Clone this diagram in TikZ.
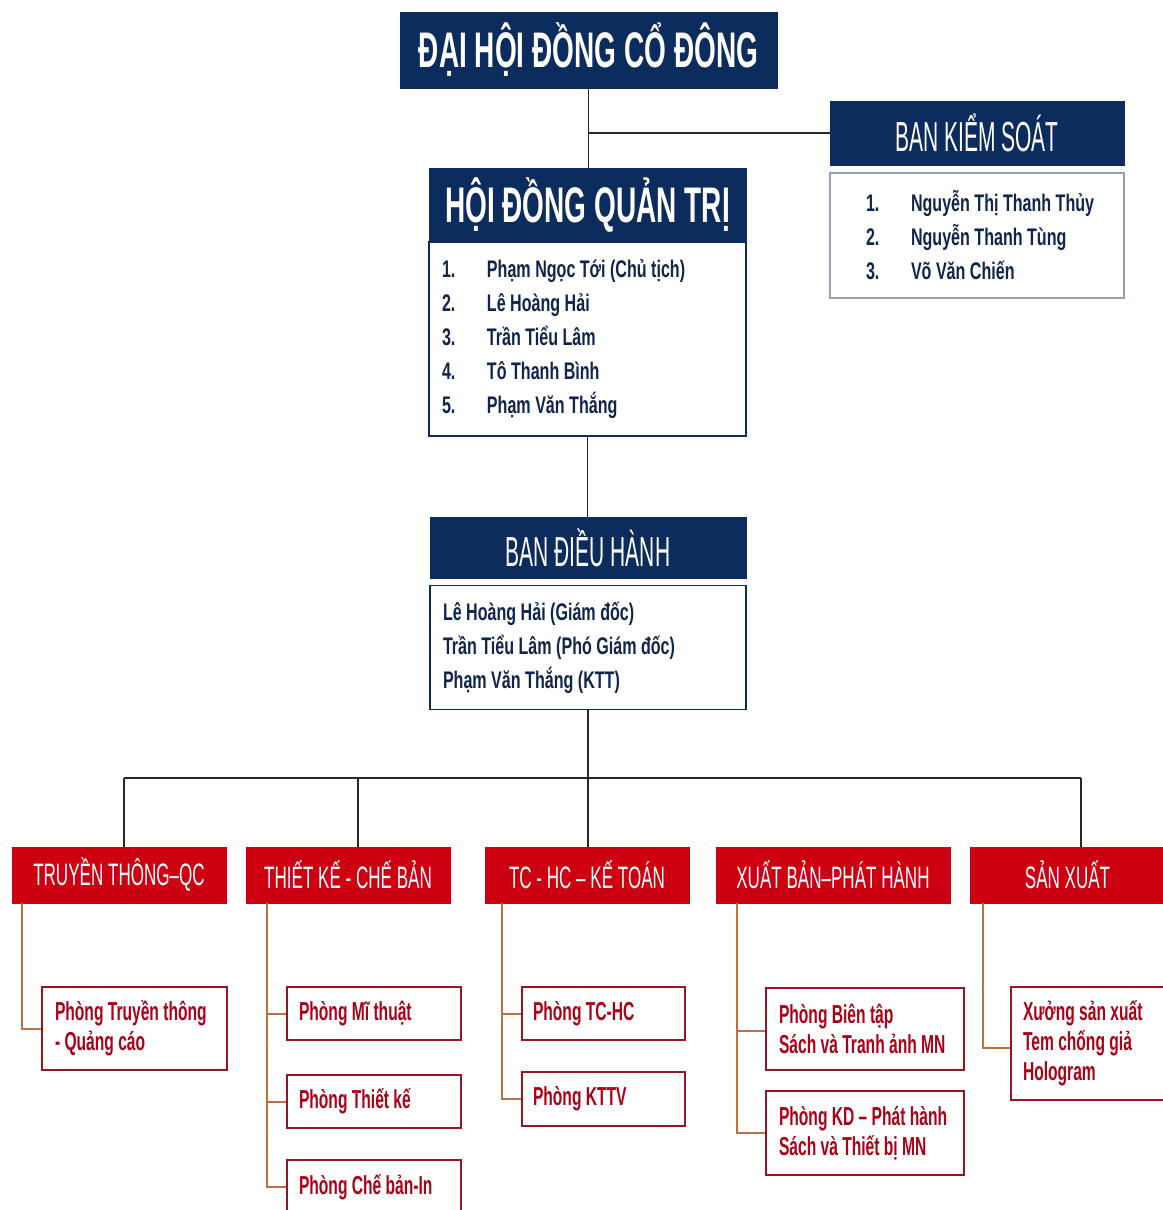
\documentclass[tikz,border=0pt]{standalone}
\usepackage{fontspec}
\setmainfont{Liberation Sans}
\newfontfamily\fTitle{Liberation Sans}[FakeStretch=0.56]
\newfontfamily\fHead{Liberation Sans}[FakeStretch=0.5]
\newfontfamily\fBody{Liberation Sans}[FakeStretch=0.67]
\newfontfamily\fRed{Liberation Sans}[FakeStretch=0.55]
\newfontfamily\fSub{Liberation Sans}[FakeStretch=0.6]
\newdimen\PX \PX=0.75pt
\newcommand\boxtext[3]{\kern#1\PX\begin{minipage}{#2\PX}#3\end{minipage}}
\newcommand\itm[1]{\makebox[45\PX][l]{#1}}
\definecolor{navy}{RGB}{12,44,94}
\definecolor{navytext}{RGB}{16,36,76}
\definecolor{graybd}{RGB}{150,160,178}
\definecolor{redc}{RGB}{204,0,16}
\definecolor{redtext}{RGB}{172,0,22}
\definecolor{subbd}{RGB}{150,22,32}
\definecolor{brownc}{RGB}{188,112,72}
\definecolor{linec}{RGB}{40,40,40}
\begin{document}
\begin{tikzpicture}[x=0.75pt,y=-0.75pt,
  wh/.style 2 args={minimum width=#1\PX, minimum height=#2\PX},
  navyhead/.style={fill=navy, draw=navy, text=white, inner sep=0pt},
  titlefont/.style={font=\fTitle\bfseries\fontsize{37.5}{42}\selectfont},
  headfont/.style={font=\fHead\fontsize{31.5}{36}\selectfont},
  navybody/.style={draw=navy, line width=1.2pt, fill=white, text=navytext, inner sep=0pt,
    font=\fBody\bfseries\fontsize{18}{25.5}\selectfont},
  redhead/.style={fill=redc, draw=redc, text=white, inner sep=0pt,
    font=\fRed\fontsize{23.25}{26}\selectfont},
  subbox/.style={draw=subbd, line width=1.3pt, fill=white, text=redtext, inner sep=0pt,
    font=\fSub\bfseries\fontsize{19.5}{22.5}\selectfont},
  conn/.style={draw=linec, line width=1.4pt},
  sconn/.style={draw=brownc, line width=1.5pt}]
\useasboundingbox (0,0) rectangle (1163,1210);
\fill[white] (0,0) rectangle (1163,1210);

% top level
\node[navyhead, wh={377}{76}, titlefont] (dh) at (588.5,50) {ĐẠI HỘI ĐỒNG CỔ ĐÔNG};
\node[navyhead, wh={317}{74}, titlefont] (hdh) at (587.5,205) {HỘI ĐỒNG QUẢN TRỊ};
\node[navybody, wh={317}{194}] (hdb) at (587.5,339) {\boxtext{13}{304}{%
  \itm{1.}Phạm Ngọc Tới (Chủ tịch)\\
  \itm{2.}Lê Hoàng Hải\\
  \itm{3.}Trần Tiểu Lâm\\
  \itm{4.}Tô Thanh Bình\\
  \itm{5.}Phạm Văn Thắng}};
\node[navyhead, wh={294}{64}, headfont] (bkh) at (977,133) {BAN KIỂM SOÁT};
\node[navybody, draw=graybd, wh={294}{125}] (bkb) at (977,235.5) {\boxtext{36}{258}{%
  \itm{1.}Nguyễn Thị Thanh Thủy\\
  \itm{2.}Nguyễn Thanh Tùng\\
  \itm{3.}Võ Văn Chiến}};
\node[navyhead, wh={316}{61}, headfont] (bdh) at (588,547.5) {BAN ĐIỀU HÀNH};
\node[navybody, wh={316}{124}] (bdb) at (588,647.5) {\boxtext{13}{303}{%
  Lê Hoàng Hải (Giám đốc)\\
  Trần Tiểu Lâm (Phó Giám đốc)\\
  Phạm Văn Thắng (KTT)}};

% red department headers
\node[redhead, wh={214}{56}] (tt) at (119,875) {TRUYỀN THÔNG–QC};
\node[redhead, wh={204}{56}] (tk) at (348,875) {THIẾT KẾ - CHẾ BẢN};
\node[redhead, wh={204}{56}] (tc) at (587,875) {TC - HC – KẾ TOÁN};
\node[redhead, wh={234}{56}] (xb) at (833,875) {XUẤT BẢN–PHÁT HÀNH};
\node[redhead, wh={195}{56}] (sx) at (1067.5,875) {SẢN XUẤT};

% sub-departments
\node[subbox, wh={185}{83}] (s11) at (134.5,1028.5) {\boxtext{13}{172}{Phòng Truyền thông\\- Quảng cáo}};
\node[subbox, wh={174}{53}] (s21) at (374,1013.5) {\boxtext{12}{162}{Phòng Mĩ thuật}};
\node[subbox, wh={174}{53}] (s22) at (374,1101.5) {\boxtext{12}{162}{Phòng Thiết kế}};
\node[subbox, wh={174}{54}] (s23) at (374,1187) {\boxtext{12}{162}{Phòng Chế bản-In}};
\node[subbox, wh={163}{53}] (s31) at (603.5,1013.5) {\boxtext{11}{152}{Phòng TC-HC}};
\node[subbox, wh={163}{54}] (s32) at (603.5,1099) {\boxtext{11}{152}{Phòng KTTV}};
\node[subbox, wh={198}{82}] (s41) at (865,1029) {\boxtext{13}{185}{Phòng Biên tập\\Sách và Tranh ảnh MN}};
\node[subbox, wh={198}{84}] (s42) at (865,1133) {\boxtext{13}{185}{Phòng KD – Phát hành\\Sách và Thiết bị MN}};
\node[subbox, wh={154}{113}] (s51) at (1088,1043.5) {\boxtext{12}{142}{Xưởng sản xuất\\Tem chống giả\\Hologram}};

% upper connectors
\draw[conn] (dh.south) -- (dh.south |- hdh.north);
\draw[conn] (dh.south |- bkh.west) -- (bkh.west);
\draw[conn] (hdb.south) -- (hdb.south |- bdh.north);
\coordinate (bus) at (588,778);
\coordinate (bL) at (124,778);
\coordinate (b2) at (358,778);
\coordinate (bR) at (1081,778);
\draw[conn] (bdb.south) -- (bus);
\draw[conn] (bL) -- (bR);
\draw[conn] (bL) -- (bL |- tt.north);
\draw[conn] (b2) -- (b2 |- tk.north);
\draw[conn] (bus) -- (bus |- tc.north);
\draw[conn] (bR) -- (bR |- sx.north);

% spines
\coordinate (p1) at ([xshift=10\PX]tt.south west);
\coordinate (p2) at ([xshift=21\PX]tk.south west);
\coordinate (p3) at ([xshift=17\PX]tc.south west);
\coordinate (p4) at ([xshift=21\PX]xb.south west);
\coordinate (p5) at ([xshift=13\PX]sx.south west);
\draw[sconn] (p1) |- (s11.west);
\draw[sconn] (p2) |- (s21.west) (p2) |- (s22.west) (p2) |- (s23.west);
\draw[sconn] (p3) |- (s31.west) (p3) |- (s32.west);
\draw[sconn] (p4) |- ([yshift=-2\PX]s41.west) (p4) |- (s42.west);
\draw[sconn] (p5) |- ([yshift=-4.5\PX]s51.west);
\end{tikzpicture}
\end{document}
